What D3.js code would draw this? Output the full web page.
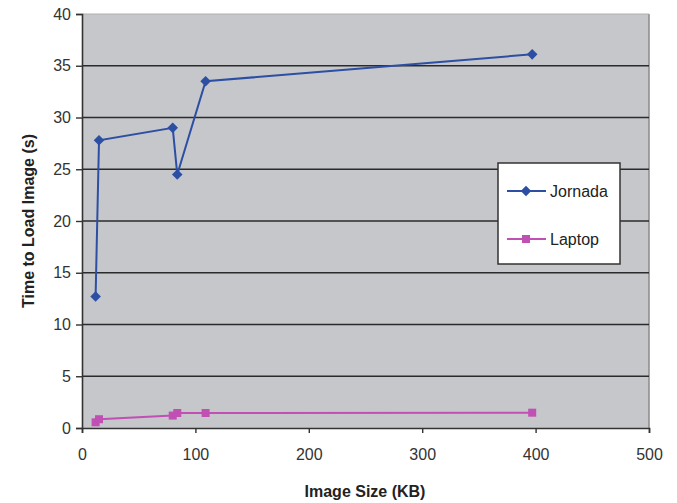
<!DOCTYPE html>
<html>
<head>
<meta charset="utf-8">
<script src="https://cdn.jsdelivr.net/npm/d3@7"></script>
<style>
  html, body { margin: 0; padding: 0; background: #fff; }
  svg { display: block; font-family: "Liberation Sans", Arial, sans-serif; }
</style>
</head>
<body>
<svg id="chart" width="677" height="503"></svg>
<script>
const imageSizes = [12, 15, 80, 84, 109, 397];
const jornadaTimes = [12.7, 27.8, 29.0, 24.5, 33.5, 36.1];
const laptopTimes = [0.55, 0.85, 1.2, 1.45, 1.45, 1.48];
const seriesNames = ["Jornada", "Laptop"];
const xTicks = [0, 100, 200, 300, 400, 500];
const yTicks = [0, 5, 10, 15, 20, 25, 30, 35, 40];

const svg = d3.select("#chart");
const m = { left: 82, right: 28, top: 14, bottom: 75 };
const W = 677, H = 503;
const x = d3.scaleLinear().domain([0, 500]).range([m.left, W - m.right]);
const y = d3.scaleLinear().domain([0, 40]).range([H - m.bottom, m.top]);

// plot background
svg.append("rect")
  .attr("x", x(0)).attr("y", y(40))
  .attr("width", x(500) - x(0)).attr("height", y(0) - y(40))
  .attr("fill", "#c5c7cb");
// right border
svg.append("line")
  .attr("x1", x(500)).attr("x2", x(500)).attr("y1", y(40)).attr("y2", y(0))
  .attr("stroke", "#8a8a8a").attr("stroke-width", 1.5);
// top border light
svg.append("line")
  .attr("x1", x(0)).attr("x2", x(500)).attr("y1", y(40)).attr("y2", y(40))
  .attr("stroke", "#b0b0b0").attr("stroke-width", 1);

// gridlines
svg.append("g").selectAll("line").data(yTicks.filter(d => d > 0 && d < 40)).join("line")
  .attr("x1", x(0)).attr("x2", x(500))
  .attr("y1", d => y(d)).attr("y2", d => y(d))
  .attr("stroke", "#2b2b2b").attr("stroke-width", 1.6);

// axes
const xAxis = svg.append("g").attr("transform", `translate(0,${y(0)})`)
  .call(d3.axisBottom(x).tickValues(xTicks).tickSize(5).tickPadding(16).tickFormat(d3.format("d")));
const yAxis = svg.append("g").attr("transform", `translate(${x(0)},0)`)
  .call(d3.axisLeft(y).tickValues(yTicks).tickSize(6).tickPadding(5).tickFormat(d3.format("d")));
[xAxis, yAxis].forEach(g => {
  g.select(".domain").attr("stroke", "#333").attr("stroke-width", 1.6);
  g.selectAll(".tick line").attr("stroke", "#333").attr("stroke-width", 1.4);
  g.selectAll(".tick text").attr("fill", "#333").style("font-size", "16px");
});

// series
const jData = imageSizes.map((d, i) => [d, jornadaTimes[i]]);
const lData = imageSizes.map((d, i) => [d, laptopTimes[i]]);
const line = d3.line().x(d => x(d[0])).y(d => y(d[1]));
const jColor = "#2c4fa3", lColor = "#c050b4";

svg.append("path").datum(jData).attr("d", line)
  .attr("fill", "none").attr("stroke", jColor).attr("stroke-width", 2);
svg.append("path").datum(lData).attr("d", line)
  .attr("fill", "none").attr("stroke", lColor).attr("stroke-width", 2);

const diamond = d3.symbol().type(d3.symbolSquare).size(56);
svg.append("g").selectAll("path").data(jData).join("path")
  .attr("d", diamond)
  .attr("transform", d => `translate(${x(d[0])},${y(d[1])}) rotate(45)`)
  .attr("fill", jColor);
svg.append("g").selectAll("rect").data(lData).join("rect")
  .attr("x", d => x(d[0]) - 4).attr("y", d => y(d[1]) - 4)
  .attr("width", 8).attr("height", 8)
  .attr("fill", lColor);

// legend
const lg = svg.append("g");
lg.append("rect").attr("x", 498).attr("y", 163).attr("width", 122).attr("height", 101)
  .attr("fill", "#fff").attr("stroke", "#333").attr("stroke-width", 1.5);
const legendItems = [
  { name: seriesNames[0], color: jColor, shape: "diamond", yy: 191 },
  { name: seriesNames[1], color: lColor, shape: "square", yy: 239 }
];
legendItems.forEach(it => {
  lg.append("line").attr("x1", 507).attr("x2", 546).attr("y1", it.yy).attr("y2", it.yy)
    .attr("stroke", it.color).attr("stroke-width", 2);
  if (it.shape === "diamond") {
    lg.append("path").attr("d", diamond).attr("transform", `translate(526,${it.yy}) rotate(45)`).attr("fill", it.color);
  } else {
    lg.append("rect").attr("x", 522).attr("y", it.yy - 4).attr("width", 8).attr("height", 8).attr("fill", it.color);
  }
  lg.append("text").attr("x", 550).attr("y", it.yy).attr("dy", "0.35em")
    .attr("fill", "#222").style("font-size", "16px").text(it.name);
});

// axis titles
svg.append("text").attr("x", 365).attr("y", 497).attr("text-anchor", "middle")
  .style("font-size", "16px").style("font-weight", "bold").attr("fill", "#222")
  .text("Image Size (KB)");
svg.append("text").attr("transform", `translate(34,${(y(0) + y(40)) / 2}) rotate(-90)`)
  .attr("text-anchor", "middle")
  .style("font-size", "16px").style("font-weight", "bold").attr("fill", "#222")
  .text("Time to Load Image (s)");
</script>
</body>
</html>
